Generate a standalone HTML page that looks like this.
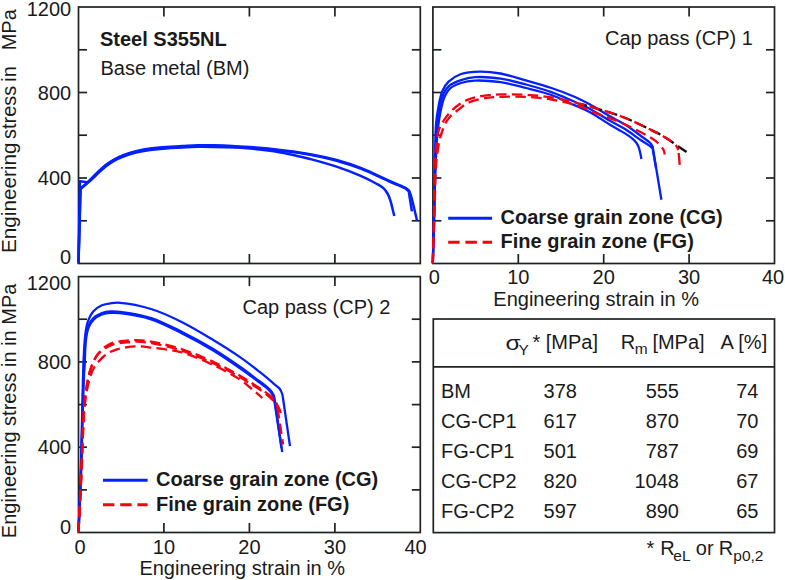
<!DOCTYPE html>
<html><head><meta charset="utf-8"><style>
html,body{margin:0;padding:0;background:#fff;}
body{width:785px;height:580px;overflow:hidden;font-family:"Liberation Sans", sans-serif;}
svg{display:block;}
</style></head><body>
<svg width="785" height="580" viewBox="0 0 785 580" font-family="Liberation Sans, sans-serif" fill="#1a1a1a">
<rect width="785" height="580" fill="#fff"/>
<rect x="78.5" y="7.0" width="341.8" height="256.5" fill="none" stroke="#1e2222" stroke-width="1.7"/>
<line x1="78.5" y1="220.8" x2="87.0" y2="220.8" stroke="#1e2222" stroke-width="1.7"/>
<line x1="411.8" y1="220.8" x2="420.3" y2="220.8" stroke="#1e2222" stroke-width="1.7"/>
<line x1="78.5" y1="178.0" x2="87.0" y2="178.0" stroke="#1e2222" stroke-width="1.7"/>
<line x1="411.8" y1="178.0" x2="420.3" y2="178.0" stroke="#1e2222" stroke-width="1.7"/>
<line x1="78.5" y1="135.2" x2="87.0" y2="135.2" stroke="#1e2222" stroke-width="1.7"/>
<line x1="411.8" y1="135.2" x2="420.3" y2="135.2" stroke="#1e2222" stroke-width="1.7"/>
<line x1="78.5" y1="92.5" x2="87.0" y2="92.5" stroke="#1e2222" stroke-width="1.7"/>
<line x1="411.8" y1="92.5" x2="420.3" y2="92.5" stroke="#1e2222" stroke-width="1.7"/>
<line x1="78.5" y1="49.8" x2="87.0" y2="49.8" stroke="#1e2222" stroke-width="1.7"/>
<line x1="411.8" y1="49.8" x2="420.3" y2="49.8" stroke="#1e2222" stroke-width="1.7"/>
<line x1="163.9" y1="263.5" x2="163.9" y2="254.0" stroke="#1e2222" stroke-width="1.7"/>
<line x1="163.9" y1="7.0" x2="163.9" y2="16.5" stroke="#1e2222" stroke-width="1.7"/>
<line x1="249.4" y1="263.5" x2="249.4" y2="254.0" stroke="#1e2222" stroke-width="1.7"/>
<line x1="249.4" y1="7.0" x2="249.4" y2="16.5" stroke="#1e2222" stroke-width="1.7"/>
<line x1="334.9" y1="263.5" x2="334.9" y2="254.0" stroke="#1e2222" stroke-width="1.7"/>
<line x1="334.9" y1="7.0" x2="334.9" y2="16.5" stroke="#1e2222" stroke-width="1.7"/>
<rect x="432.9" y="7.0" width="341.6" height="256.5" fill="none" stroke="#1e2222" stroke-width="1.7"/>
<line x1="432.9" y1="220.8" x2="441.4" y2="220.8" stroke="#1e2222" stroke-width="1.7"/>
<line x1="766.0" y1="220.8" x2="774.5" y2="220.8" stroke="#1e2222" stroke-width="1.7"/>
<line x1="432.9" y1="178.0" x2="441.4" y2="178.0" stroke="#1e2222" stroke-width="1.7"/>
<line x1="766.0" y1="178.0" x2="774.5" y2="178.0" stroke="#1e2222" stroke-width="1.7"/>
<line x1="432.9" y1="135.2" x2="441.4" y2="135.2" stroke="#1e2222" stroke-width="1.7"/>
<line x1="766.0" y1="135.2" x2="774.5" y2="135.2" stroke="#1e2222" stroke-width="1.7"/>
<line x1="432.9" y1="92.5" x2="441.4" y2="92.5" stroke="#1e2222" stroke-width="1.7"/>
<line x1="766.0" y1="92.5" x2="774.5" y2="92.5" stroke="#1e2222" stroke-width="1.7"/>
<line x1="432.9" y1="49.8" x2="441.4" y2="49.8" stroke="#1e2222" stroke-width="1.7"/>
<line x1="766.0" y1="49.8" x2="774.5" y2="49.8" stroke="#1e2222" stroke-width="1.7"/>
<line x1="518.3" y1="263.5" x2="518.3" y2="254.0" stroke="#1e2222" stroke-width="1.7"/>
<line x1="518.3" y1="7.0" x2="518.3" y2="16.5" stroke="#1e2222" stroke-width="1.7"/>
<line x1="603.7" y1="263.5" x2="603.7" y2="254.0" stroke="#1e2222" stroke-width="1.7"/>
<line x1="603.7" y1="7.0" x2="603.7" y2="16.5" stroke="#1e2222" stroke-width="1.7"/>
<line x1="689.1" y1="263.5" x2="689.1" y2="254.0" stroke="#1e2222" stroke-width="1.7"/>
<line x1="689.1" y1="7.0" x2="689.1" y2="16.5" stroke="#1e2222" stroke-width="1.7"/>
<rect x="78.5" y="276.6" width="341.8" height="255.9" fill="none" stroke="#1e2222" stroke-width="1.7"/>
<line x1="78.5" y1="489.9" x2="87.0" y2="489.9" stroke="#1e2222" stroke-width="1.7"/>
<line x1="411.8" y1="489.9" x2="420.3" y2="489.9" stroke="#1e2222" stroke-width="1.7"/>
<line x1="78.5" y1="447.2" x2="87.0" y2="447.2" stroke="#1e2222" stroke-width="1.7"/>
<line x1="411.8" y1="447.2" x2="420.3" y2="447.2" stroke="#1e2222" stroke-width="1.7"/>
<line x1="78.5" y1="404.6" x2="87.0" y2="404.6" stroke="#1e2222" stroke-width="1.7"/>
<line x1="411.8" y1="404.6" x2="420.3" y2="404.6" stroke="#1e2222" stroke-width="1.7"/>
<line x1="78.5" y1="361.9" x2="87.0" y2="361.9" stroke="#1e2222" stroke-width="1.7"/>
<line x1="411.8" y1="361.9" x2="420.3" y2="361.9" stroke="#1e2222" stroke-width="1.7"/>
<line x1="78.5" y1="319.2" x2="87.0" y2="319.2" stroke="#1e2222" stroke-width="1.7"/>
<line x1="411.8" y1="319.2" x2="420.3" y2="319.2" stroke="#1e2222" stroke-width="1.7"/>
<line x1="163.9" y1="532.5" x2="163.9" y2="523.0" stroke="#1e2222" stroke-width="1.7"/>
<line x1="163.9" y1="276.6" x2="163.9" y2="286.1" stroke="#1e2222" stroke-width="1.7"/>
<line x1="249.4" y1="532.5" x2="249.4" y2="523.0" stroke="#1e2222" stroke-width="1.7"/>
<line x1="249.4" y1="276.6" x2="249.4" y2="286.1" stroke="#1e2222" stroke-width="1.7"/>
<line x1="334.9" y1="532.5" x2="334.9" y2="523.0" stroke="#1e2222" stroke-width="1.7"/>
<line x1="334.9" y1="276.6" x2="334.9" y2="286.1" stroke="#1e2222" stroke-width="1.7"/>
<rect x="433.3" y="319.0" width="341.2" height="213.6" fill="none" stroke="#1e2222" stroke-width="1.7"/>
<line x1="433.3" y1="366.9" x2="774.5" y2="366.9" stroke="#1e2222" stroke-width="1.7"/>
<path d="M78.5,263.3 L80.0,181.3 L87.5,182.2 C88.8,181.1 90.2,180.1 91.5,178.9 C92.8,177.8 93.9,176.6 95.2,175.3 C96.7,173.8 98.3,172.2 100.0,170.6 C101.9,168.9 103.8,167.1 106.0,165.4 C108.4,163.6 111.1,161.7 114.0,160.1 C117.1,158.4 120.5,156.8 124.0,155.5 C127.8,154.0 131.8,152.8 136.0,151.8 C140.5,150.7 145.2,149.9 150.0,149.2 C155.1,148.5 160.7,148.0 166.0,147.6 C171.3,147.2 176.7,147.0 182.0,146.7 C187.3,146.4 192.7,146.0 198.0,145.9 C203.3,145.8 208.5,146.0 214.0,146.2 C219.8,146.4 226.0,146.6 232.0,147.0 C238.0,147.4 244.0,148.0 250.0,148.6 C256.0,149.2 261.8,149.8 268.0,150.6 C274.6,151.5 281.4,152.5 288.3,153.9 C295.4,155.3 302.4,157.0 310.0,159.0 C318.4,161.2 328.0,163.7 336.6,166.6 C344.9,169.4 353.6,172.8 360.7,175.9 C366.4,178.4 371.9,181.2 376.0,183.5 C379.0,185.1 381.4,186.3 383.4,188.1 C385.1,189.7 386.3,191.5 387.5,193.5 C388.8,195.7 389.5,198.0 390.5,201.0 C391.8,205.1 393.0,211.0 394.3,216.0" fill="none" stroke="#0520ff" stroke-width="2.5" stroke-linejoin="round"/>
<path d="M78.5,263.3 L80.6,189.0 L88.0,182.5 C89.2,181.6 90.3,180.7 91.5,179.7 C92.7,178.6 93.9,177.4 95.2,176.1 C96.7,174.6 98.3,173.0 100.0,171.4 C101.9,169.7 103.8,167.9 106.0,166.2 C108.4,164.4 111.1,162.5 114.0,160.9 C117.1,159.2 120.5,157.6 124.0,156.3 C127.8,154.8 131.8,153.6 136.0,152.6 C140.5,151.5 145.2,150.7 150.0,150.0 C155.1,149.3 160.7,148.8 166.0,148.4 C171.3,148.0 176.7,147.8 182.0,147.5 C187.3,147.2 192.7,146.9 198.0,146.8 C203.3,146.7 208.5,146.8 214.0,146.9 C219.8,147.0 226.0,147.2 232.0,147.3 C238.0,147.5 244.0,147.5 250.0,147.8 C256.0,148.1 261.8,148.6 268.0,149.2 C274.6,149.8 281.4,150.6 288.3,151.5 C295.4,152.4 302.4,153.4 310.0,154.8 C318.4,156.4 328.0,158.4 336.6,160.8 C344.9,163.1 352.3,165.5 360.7,168.7 C370.2,172.4 382.3,178.5 390.7,182.2 C396.7,184.9 403.3,187.1 406.2,189.1 C407.6,190.0 407.9,190.8 408.8,191.7 L411.9,211.4" fill="none" stroke="#0520ff" stroke-width="2.5" stroke-linejoin="round"/>
<path d="M78.5,263.3 L80.4,188.5 L88.0,182.3 C89.2,181.1 90.3,179.6 91.5,178.3 C92.7,177.0 93.9,176.0 95.2,174.7 C96.7,173.2 98.3,171.6 100.0,170.0 C101.9,168.3 103.8,166.5 106.0,164.8 C108.4,163.0 111.1,161.1 114.0,159.5 C117.1,157.8 120.5,156.2 124.0,154.9 C127.8,153.4 131.8,152.2 136.0,151.2 C140.5,150.1 145.2,149.3 150.0,148.6 C155.1,147.9 160.7,147.4 166.0,147.0 C171.3,146.6 176.7,146.4 182.0,146.1 C187.3,145.8 192.7,145.3 198.0,145.2 C203.3,145.1 208.5,145.2 214.0,145.3 C219.8,145.4 226.0,145.6 232.0,145.9 C238.0,146.2 244.0,146.6 250.0,147.0 C256.0,147.5 261.8,148.0 268.0,148.6 C274.6,149.3 281.4,150.1 288.3,151.0 C295.4,151.9 302.4,152.8 310.0,154.2 C318.4,155.7 328.0,157.7 336.6,160.0 C344.9,162.3 352.3,164.6 360.7,167.9 C370.2,171.6 382.3,177.8 390.7,181.5 C396.7,184.2 403.1,186.3 406.2,188.3 C407.7,189.3 408.3,190.1 409.3,191.0 C409.9,192.8 410.5,194.0 411.2,196.5 C412.7,201.7 415.1,212.6 417.1,220.7" fill="none" stroke="#0520ff" stroke-width="2.5" stroke-linejoin="round"/>
<path d="M432.8,263.3 C433.1,248.9 433.5,235.0 433.8,220.0 C434.1,203.9 434.5,184.9 434.8,170.0 C435.0,158.0 435.1,146.4 435.4,137.6 C435.6,131.5 435.7,127.2 436.2,122.0 C436.7,116.8 437.5,111.7 438.5,106.6 C439.5,101.4 440.5,95.4 442.4,91.0 C444.0,87.3 445.8,84.4 448.6,81.7 C451.8,78.6 456.2,75.7 461.0,74.0 C466.4,72.1 473.3,71.7 479.7,71.6 C486.4,71.5 493.3,72.2 500.5,73.5 C508.6,75.0 517.5,78.0 526.0,80.4 C534.5,82.8 543.1,85.2 551.4,88.0 C559.5,90.7 568.0,93.9 575.0,97.0 C580.8,99.5 585.1,101.8 590.5,104.7 C596.7,108.1 603.9,112.8 610.0,116.3 C615.3,119.3 620.0,121.4 625.0,124.5 C630.4,127.9 636.4,132.6 641.0,136.0 C644.4,138.5 648.0,140.7 650.0,142.8 C651.3,144.1 651.7,145.3 652.6,146.5 L661.4,199.7" fill="none" stroke="#0520ff" stroke-width="2.3" stroke-linejoin="round"/>
<path d="M432.8,263.3 C433.2,248.9 433.6,235.0 434.0,220.0 C434.4,203.9 434.7,185.2 435.2,170.0 C435.6,157.3 435.9,145.2 436.6,135.0 C437.2,127.1 437.7,120.7 438.7,114.0 C439.7,107.9 440.4,101.4 442.4,96.5 C444.0,92.5 445.7,89.1 448.6,86.4 C451.7,83.5 456.6,81.7 461.0,80.2 C465.4,78.6 469.6,77.6 475.0,77.2 C482.2,76.6 492.1,77.4 500.5,78.6 C509.1,79.8 517.5,82.2 526.0,84.5 C534.5,86.8 543.2,89.2 551.4,92.2 C559.5,95.1 568.0,98.9 575.0,102.0 C580.7,104.5 585.1,106.4 590.5,109.2 C596.7,112.5 603.9,117.3 610.0,120.8 C615.3,123.8 620.0,125.9 625.0,129.0 C630.3,132.3 636.4,137.2 641.0,140.3 C644.4,142.6 647.9,144.6 650.0,146.2 C651.2,147.1 651.7,147.7 652.6,148.5 L656.0,168.0" fill="none" stroke="#0520ff" stroke-width="2.3" stroke-linejoin="round"/>
<path d="M432.8,263.3 C433.2,248.9 433.7,235.0 434.1,220.0 C434.6,203.9 434.8,185.2 435.4,170.0 C435.9,157.3 436.4,145.0 437.3,135.0 C438.0,127.4 438.7,121.3 439.9,115.0 C441.0,109.2 442.0,103.2 443.9,98.5 C445.5,94.6 447.2,91.1 450.0,88.5 C452.9,85.9 457.0,84.3 461.0,83.0 C465.3,81.6 469.6,80.9 475.0,80.6 C482.2,80.2 492.0,81.0 500.5,82.2 C509.0,83.4 517.5,85.9 526.0,88.0 C534.5,90.1 543.2,92.1 551.4,95.0 C559.5,97.9 568.0,102.3 575.0,105.4 C580.7,107.9 585.1,109.5 590.5,112.4 C596.7,115.8 603.9,121.1 610.0,124.8 C615.3,128.0 620.8,130.7 625.0,133.4 C628.3,135.5 631.4,137.7 633.5,139.6 C634.9,140.8 635.6,141.9 636.6,143.0 C637.3,144.5 638.2,145.8 638.8,147.5 C639.6,149.6 640.2,152.9 640.7,155.0 C641.0,156.5 641.2,157.7 641.4,159.0" fill="none" stroke="#0520ff" stroke-width="2.3" stroke-linejoin="round"/>
<clipPath id="cb"><rect x="580" y="0" width="200" height="263"/></clipPath>
<g clip-path="url(#cb)">
<path d="M432.8,263.3 C433.2,245.5 433.6,227.0 434.0,210.0 C434.3,194.4 434.5,177.0 435.0,165.0 C435.3,157.0 435.6,150.7 436.2,145.0 C436.6,140.8 436.9,137.3 437.7,134.0 C438.4,131.1 439.4,128.4 440.5,126.0 C441.5,123.9 442.7,122.1 444.0,120.2 C445.4,118.1 446.9,115.9 448.5,114.0 C450.1,112.1 451.8,110.4 453.6,108.8 C455.4,107.2 457.4,105.7 459.5,104.3 C461.6,102.9 463.8,101.5 466.2,100.4 C468.9,99.2 471.8,98.1 475.0,97.3 C478.7,96.3 483.2,95.8 487.4,95.3 C491.7,94.8 495.4,94.5 500.5,94.4 C507.6,94.2 517.5,94.3 526.0,94.8 C534.5,95.3 543.1,96.1 551.4,97.4 C559.4,98.7 567.3,100.6 575.0,102.5 C582.4,104.3 589.3,106.3 596.8,108.6 C605.0,111.1 613.9,113.6 622.3,116.8 C630.9,120.1 640.2,124.6 647.8,128.3 C654.1,131.4 659.8,134.0 665.0,137.2 C669.7,140.1 673.8,143.4 678.0,146.3 C682.0,149.0 685.8,151.5 689.7,154.1" fill="none" stroke="#111" stroke-width="2.3" stroke-linejoin="round" stroke-dasharray="10.5 5.3" stroke-dashoffset="-2.5"/>
</g>
<path d="M432.8,263.3 C433.4,245.5 434.0,227.0 434.6,210.0 C435.1,194.4 435.2,176.0 436.0,165.0 C436.5,158.6 437.1,154.5 437.8,150.0 C438.3,146.3 438.8,143.0 439.5,140.0 C440.1,137.6 440.7,135.8 441.5,133.5 C442.4,130.7 443.3,127.3 444.7,124.5 C446.2,121.7 448.0,118.9 450.2,116.5 C452.4,114.1 455.1,112.2 457.9,110.0 C461.2,107.5 464.5,104.5 468.8,102.5 C474.0,100.1 481.7,98.7 487.4,97.8 C492.1,97.0 495.4,97.0 500.5,96.8 C507.6,96.5 517.5,96.5 526.0,96.9 C534.5,97.3 543.1,98.2 551.4,99.5 C559.5,100.8 567.4,102.5 575.0,104.8 C582.5,107.1 589.2,110.5 596.8,113.4 C605.0,116.6 613.9,119.5 622.3,123.2 C630.9,127.0 641.3,132.2 647.8,136.0 C652.1,138.5 655.3,140.4 658.0,143.0 C660.3,145.2 662.5,147.8 663.6,150.0 C664.4,151.6 664.4,153.0 664.8,154.5" fill="none" stroke="#f7000f" stroke-width="2.3" stroke-linejoin="round" stroke-dasharray="10.5 5.3" stroke-dashoffset="1"/>
<path d="M432.8,263.3 C433.2,245.5 433.6,227.0 434.0,210.0 C434.3,194.4 434.5,177.0 435.0,165.0 C435.3,157.0 435.6,150.7 436.2,145.0 C436.6,140.8 436.9,137.3 437.7,134.0 C438.4,131.1 439.4,128.4 440.5,126.0 C441.5,123.9 442.7,122.1 444.0,120.2 C445.4,118.1 446.9,115.9 448.5,114.0 C450.1,112.1 451.8,110.4 453.6,108.8 C455.4,107.2 457.4,105.7 459.5,104.3 C461.6,102.9 463.8,101.5 466.2,100.4 C468.9,99.2 471.8,98.1 475.0,97.3 C478.7,96.3 483.2,95.8 487.4,95.3 C491.7,94.8 495.4,94.5 500.5,94.4 C507.6,94.2 517.5,94.3 526.0,94.8 C534.5,95.3 543.1,96.1 551.4,97.4 C559.4,98.7 567.3,100.6 575.0,102.5 C582.4,104.3 589.3,106.3 596.8,108.6 C605.0,111.1 613.9,113.6 622.3,116.8 C630.9,120.1 640.2,124.6 647.8,128.3 C654.1,131.4 660.0,134.1 665.0,137.2 C669.2,139.8 673.8,142.9 676.0,145.5 C677.3,147.1 677.6,148.5 678.4,150.0" fill="none" stroke="#f7000f" stroke-width="2.3" stroke-linejoin="round" stroke-dasharray="10.5 5.3" stroke-dashoffset="0"/>
<path d="M678.4,150.0 L680.0,168.0" fill="none" stroke="#f7000f" stroke-width="2.3" stroke-linejoin="round" stroke-dasharray="12 6" stroke-dashoffset="-3"/>
<path d="M78.5,532.2 C79.2,514.8 79.9,498.0 80.5,480.0 C81.1,460.7 81.6,437.8 82.0,420.0 C82.3,405.7 82.6,392.8 82.9,381.2 C83.2,371.7 83.3,363.6 83.8,355.3 C84.2,347.6 84.6,339.2 85.5,332.9 C86.2,328.3 86.7,324.6 88.1,320.9 C89.4,317.5 90.9,314.0 93.2,311.4 C95.5,308.8 98.9,306.7 101.9,305.3 C104.7,304.1 107.5,303.7 110.5,303.3 C113.6,302.9 115.9,302.5 120.0,302.8 C127.4,303.3 140.9,305.8 151.1,309.0 C161.6,312.2 171.9,317.1 182.1,322.2 C192.6,327.4 203.3,334.0 213.2,340.0 C222.5,345.6 231.8,351.4 240.0,357.1 C247.3,362.1 253.9,367.4 260.0,372.2 C265.3,376.4 270.9,381.2 274.5,384.3 C276.7,386.2 278.4,387.1 279.7,388.8 C280.9,390.4 281.6,392.1 282.2,394.0 C282.9,396.1 283.0,398.7 283.4,401.0 L290.0,446.2" fill="none" stroke="#0520ff" stroke-width="2.3" stroke-linejoin="round"/>
<path d="M78.5,532.2 C79.2,514.8 80.1,498.0 80.7,480.0 C81.4,460.7 81.8,437.3 82.3,420.0 C82.7,406.8 82.9,395.7 83.3,385.0 C83.6,376.0 84.1,368.1 84.5,360.0 C84.9,352.5 84.8,344.3 85.6,338.1 C86.2,333.4 86.8,329.5 88.2,326.0 C89.4,323.0 91.0,320.4 93.2,318.3 C95.5,316.1 98.9,314.3 101.9,313.1 C104.7,312.0 107.5,311.6 110.5,311.4 C113.6,311.2 115.9,311.3 120.0,311.8 C127.4,312.7 140.9,314.7 151.1,318.0 C161.6,321.4 171.9,326.9 182.1,332.0 C192.6,337.2 203.3,343.0 213.2,349.0 C222.6,354.7 232.3,361.4 240.0,366.8 C246.1,371.1 251.3,375.1 256.0,378.6 C259.7,381.4 263.2,383.8 266.0,386.2 C268.2,388.1 270.2,389.8 271.6,391.6 C272.7,393.1 273.4,394.4 274.0,396.0 C274.6,397.8 274.7,400.0 275.0,402.0 L282.2,452.2" fill="none" stroke="#0520ff" stroke-width="2.3" stroke-linejoin="round"/>
<path d="M78.5,532.2 C79.3,514.8 80.2,498.0 80.9,480.0 C81.6,460.7 82.0,437.3 82.5,420.0 C82.9,406.8 83.1,395.7 83.5,385.0 C83.9,376.0 84.4,367.9 84.8,360.0 C85.2,352.8 85.2,345.4 86.0,339.5 C86.6,334.9 87.2,331.0 88.6,327.5 C89.8,324.5 91.4,321.8 93.6,319.6 C95.8,317.4 99.1,315.5 102.0,314.4 C104.7,313.3 107.6,313.0 110.5,312.8 C113.6,312.6 115.9,312.7 120.0,313.2 C127.4,314.1 140.9,316.1 151.1,319.4 C161.6,322.8 171.9,328.3 182.1,333.4 C192.6,338.6 203.3,344.4 213.2,350.4 C222.6,356.1 232.3,362.8 240.0,368.2 C246.1,372.4 251.3,376.3 256.0,379.8 C259.7,382.6 263.2,385.0 266.0,387.4 C268.2,389.3 270.1,391.0 271.4,392.8 C272.5,394.3 273.1,395.6 273.6,397.2 C274.2,399.0 274.3,401.1 274.7,403.0 L281.5,448.0" fill="none" stroke="#0520ff" stroke-width="2.3" stroke-linejoin="round"/>
<path d="M78.5,532.2 C79.4,514.8 80.5,496.2 81.2,480.0 C81.9,465.8 82.3,452.3 82.8,440.0 C83.3,429.6 83.6,418.6 84.2,411.0 C84.6,406.1 85.0,402.7 85.5,399.0 C85.9,395.8 86.4,393.0 87.0,390.0 C87.6,387.0 88.2,383.9 89.0,381.0 C89.8,378.1 90.7,375.1 91.7,372.5 C92.6,370.3 93.6,368.3 94.7,366.5 C95.7,364.9 96.7,363.8 98.0,362.3 C99.5,360.6 101.1,358.6 103.0,357.0 C105.0,355.3 107.2,353.6 109.5,352.3 C111.8,351.0 114.5,350.1 117.0,349.3 C119.5,348.5 121.7,348.1 124.5,347.6 C128.1,347.0 132.6,346.3 136.9,346.3 C141.5,346.3 145.5,346.9 151.1,347.6 C159.5,348.6 171.9,349.7 182.1,352.5 C192.6,355.4 203.3,360.4 213.2,365.0 C222.6,369.4 233.4,375.2 240.0,379.6 C244.3,382.4 246.5,384.6 250.0,387.5 C253.9,390.7 258.3,394.5 262.4,398.0" fill="none" stroke="#f7000f" stroke-width="2.3" stroke-linejoin="round" stroke-dasharray="10.5 5.3" stroke-dashoffset="1"/>
<path d="M78.5,532.2 C79.3,514.8 80.3,496.2 81.0,480.0 C81.6,465.8 82.0,452.3 82.5,440.0 C82.9,429.4 83.4,418.3 83.9,410.6 C84.2,405.6 84.5,402.2 85.0,398.2 C85.4,394.5 85.9,391.1 86.5,387.4 C87.2,383.4 88.0,378.6 88.9,375.0 C89.6,372.2 90.3,369.9 91.2,367.5 C92.0,365.1 92.9,362.7 94.0,360.5 C95.1,358.2 96.4,355.7 98.0,354.0 C99.4,352.5 101.1,351.6 102.8,350.4 C104.6,349.1 106.4,347.6 108.3,346.6 C110.1,345.6 111.8,344.8 114.0,344.2 C117.0,343.3 121.1,342.9 124.8,342.5 C128.8,342.1 132.9,341.6 137.2,341.7 C141.8,341.8 145.8,342.2 151.4,343.2 C159.8,344.7 172.2,347.6 182.4,350.9 C192.9,354.3 203.6,358.9 213.5,363.4 C222.9,367.7 233.4,373.4 240.3,377.3 C244.7,379.9 247.2,381.7 251.0,384.1 C255.2,386.8 260.2,389.5 264.4,392.8 C268.8,396.2 274.2,401.1 276.8,404.5 C278.4,406.5 279.1,408.4 279.8,410.0 C280.3,411.1 280.4,412.0 280.7,413.0" fill="none" stroke="#f7000f" stroke-width="2.3" stroke-linejoin="round" stroke-dasharray="10.5 5.3" stroke-dashoffset="0"/>
<path d="M78.5,532.2 C79.3,514.8 80.3,496.2 81.0,480.0 C81.6,465.8 82.0,452.3 82.5,440.0 C82.9,429.4 83.4,418.3 83.9,410.6 C84.2,405.6 84.5,402.2 85.0,398.2 C85.4,394.5 85.9,391.1 86.5,387.4 C87.2,383.4 88.0,378.6 88.9,375.0 C89.6,372.2 90.3,369.9 91.2,367.5 C92.0,365.1 92.9,362.7 94.0,360.5 C95.1,358.2 96.5,356.0 98.0,354.0 C99.4,352.1 100.8,350.3 102.5,348.8 C104.2,347.3 106.1,346.0 108.0,345.0 C109.8,344.0 111.5,343.2 113.7,342.6 C116.7,341.7 120.8,341.3 124.5,340.9 C128.5,340.5 132.6,340.0 136.9,340.1 C141.5,340.2 145.5,340.6 151.1,341.6 C159.5,343.1 171.9,346.0 182.1,349.3 C192.6,352.7 203.3,357.3 213.2,361.8 C222.6,366.1 233.1,371.8 240.0,375.7 C244.4,378.3 246.9,380.1 250.7,382.5 C254.9,385.2 260.1,388.4 264.1,391.2 C267.5,393.6 271.3,396.2 273.4,398.4 C274.8,399.8 275.6,400.8 276.3,402.5 C277.2,404.6 277.3,407.5 277.8,410.0" fill="none" stroke="#f7000f" stroke-width="2.3" stroke-linejoin="round" stroke-dasharray="10.5 5.3" stroke-dashoffset="0"/>
<path d="M277.8,410.0 L283.1,444.5" fill="none" stroke="#f7000f" stroke-width="2.3" stroke-linejoin="round" stroke-dasharray="10.5 5.3" stroke-dashoffset="2"/>
<text x="71.2" y="15.5" font-size="20.0" text-anchor="end" font-weight="normal">1200</text>
<text x="71.2" y="99.6" font-size="20.0" text-anchor="end" font-weight="normal">800</text>
<text x="71.2" y="184.8" font-size="20.0" text-anchor="end" font-weight="normal">400</text>
<text x="71.2" y="264.3" font-size="20.0" text-anchor="end" font-weight="normal">0</text>
<text x="71.2" y="290.2" font-size="20.0" text-anchor="end" font-weight="normal">1200</text>
<text x="71.2" y="369.2" font-size="20.0" text-anchor="end" font-weight="normal">800</text>
<text x="71.2" y="454.2" font-size="20.0" text-anchor="end" font-weight="normal">400</text>
<text x="71.2" y="533.6" font-size="20.0" text-anchor="end" font-weight="normal">0</text>
<text x="434.4" y="284.2" font-size="20.0" text-anchor="middle" font-weight="normal">0</text>
<text x="80.0" y="554.0" font-size="20.0" text-anchor="middle" font-weight="normal">0</text>
<text x="518.3" y="284.2" font-size="20.0" text-anchor="middle" font-weight="normal">10</text>
<text x="163.9" y="554.0" font-size="20.0" text-anchor="middle" font-weight="normal">10</text>
<text x="603.7" y="284.2" font-size="20.0" text-anchor="middle" font-weight="normal">20</text>
<text x="249.4" y="554.0" font-size="20.0" text-anchor="middle" font-weight="normal">20</text>
<text x="689.1" y="284.2" font-size="20.0" text-anchor="middle" font-weight="normal">30</text>
<text x="334.9" y="554.0" font-size="20.0" text-anchor="middle" font-weight="normal">30</text>
<text x="773.1" y="284.2" font-size="20.0" text-anchor="middle" font-weight="normal">40</text>
<text x="415.5" y="554.0" font-size="20.0" text-anchor="middle" font-weight="normal">40</text>
<text x="493.3" y="305.6" font-size="20.0" text-anchor="start" font-weight="normal">Engineering strain in %</text>
<text x="139.4" y="574.6" font-size="20.0" text-anchor="start" font-weight="normal">Engineering strain in %</text>
<text transform="translate(16,253.0) rotate(-90)" font-size="20.7">Engineering</text>
<text transform="translate(16,139.0) rotate(-90)" font-size="20">stress</text>
<text transform="translate(16,81.8) rotate(-90)" font-size="20">in</text>
<text transform="translate(16,50.3) rotate(-90)" font-size="20">MPa</text>
<text transform="translate(16,410.9) rotate(-90)" font-size="20" text-anchor="middle">Engineering stress in in MPa</text>
<text x="100.0" y="45.6" font-size="20.0" text-anchor="start" font-weight="bold">Steel S355NL</text>
<text x="100.5" y="74.8" font-size="20.0" text-anchor="start" font-weight="normal">Base metal (BM)</text>
<text x="605.0" y="44.8" font-size="20.0" text-anchor="start" font-weight="normal">Cap pass (CP) 1</text>
<text x="242.5" y="314.2" font-size="20.0" text-anchor="start" font-weight="normal">Cap pass (CP) 2</text>
<line x1="448.2" y1="218.3" x2="492.1" y2="218.3" stroke="#0520ff" stroke-width="3"/>
<line x1="448.2" y1="242.3" x2="492.1" y2="242.3" stroke="#f7000f" stroke-width="3" stroke-dasharray="11.4 5.8"/>
<text x="500.5" y="223.7" font-size="20.0" text-anchor="start" font-weight="bold">Coarse grain zone (CG)</text>
<text x="500.5" y="248.3" font-size="20.0" text-anchor="start" font-weight="bold">Fine grain zone (FG)</text>
<line x1="103.0" y1="480.3" x2="147.6" y2="480.3" stroke="#0520ff" stroke-width="3"/>
<line x1="103.0" y1="504.7" x2="147.6" y2="504.7" stroke="#f7000f" stroke-width="3" stroke-dasharray="11.4 5.8"/>
<text x="156.0" y="486.1" font-size="20.0" text-anchor="start" font-weight="bold">Coarse grain zone (CG)</text>
<text x="156.0" y="510.8" font-size="20.0" text-anchor="start" font-weight="bold">Fine grain zone (FG)</text>
<text transform="translate(505.6,349.6) scale(1.22,1)" font-size="20">&#963;</text>
<text x="518.5" y="354.7" font-size="15.5">Y</text>
<text x="532.5" y="349.4" font-size="20.0" text-anchor="start" font-weight="normal">*</text>
<text x="545.8" y="349.4" font-size="20.0" text-anchor="start" font-weight="normal">[MPa]</text>
<text x="620.8" y="348.6" font-size="20.0" text-anchor="start" font-weight="normal">R</text>
<text x="634.8" y="354.3" font-size="15.5">m</text>
<text x="652.4" y="348.6" font-size="20.0" text-anchor="start" font-weight="normal">[MPa]</text>
<text x="720.5" y="348.6" font-size="20.0" text-anchor="start" font-weight="normal">A</text>
<text x="738.3" y="348.6" font-size="20.0" text-anchor="start" font-weight="normal">[%]</text>
<text x="441.0" y="397.6" font-size="20.0" text-anchor="start" font-weight="normal">BM</text>
<text x="543.6" y="397.6" font-size="20.0" text-anchor="start" font-weight="normal">378</text>
<text x="679.0" y="397.6" font-size="20.0" text-anchor="end" font-weight="normal">555</text>
<text x="758.5" y="397.6" font-size="20.0" text-anchor="end" font-weight="normal">74</text>
<text x="441.0" y="427.6" font-size="20.0" text-anchor="start" font-weight="normal">CG-CP1</text>
<text x="543.6" y="427.6" font-size="20.0" text-anchor="start" font-weight="normal">617</text>
<text x="679.0" y="427.6" font-size="20.0" text-anchor="end" font-weight="normal">870</text>
<text x="758.5" y="427.6" font-size="20.0" text-anchor="end" font-weight="normal">70</text>
<text x="441.0" y="457.6" font-size="20.0" text-anchor="start" font-weight="normal">FG-CP1</text>
<text x="543.6" y="457.6" font-size="20.0" text-anchor="start" font-weight="normal">501</text>
<text x="679.0" y="457.6" font-size="20.0" text-anchor="end" font-weight="normal">787</text>
<text x="758.5" y="457.6" font-size="20.0" text-anchor="end" font-weight="normal">69</text>
<text x="441.0" y="487.6" font-size="20.0" text-anchor="start" font-weight="normal">CG-CP2</text>
<text x="543.6" y="487.6" font-size="20.0" text-anchor="start" font-weight="normal">820</text>
<text x="679.0" y="487.6" font-size="20.0" text-anchor="end" font-weight="normal">1048</text>
<text x="758.5" y="487.6" font-size="20.0" text-anchor="end" font-weight="normal">67</text>
<text x="441.0" y="517.6" font-size="20.0" text-anchor="start" font-weight="normal">FG-CP2</text>
<text x="543.6" y="517.6" font-size="20.0" text-anchor="start" font-weight="normal">597</text>
<text x="679.0" y="517.6" font-size="20.0" text-anchor="end" font-weight="normal">890</text>
<text x="758.5" y="517.6" font-size="20.0" text-anchor="end" font-weight="normal">65</text>
<text x="646.5" y="554.6" font-size="20.0" text-anchor="start" font-weight="normal">*</text>
<text x="660.3" y="554.6" font-size="20.0" text-anchor="start" font-weight="normal">R</text>
<text x="673.3" y="560.5" font-size="15.5">eL</text>
<text x="695.8" y="554.6" font-size="20.0" text-anchor="start" font-weight="normal">or</text>
<text x="718.8" y="554.6" font-size="20.0" text-anchor="start" font-weight="normal">R</text>
<text x="733.3" y="560.5" font-size="15.5">p0,2</text>
</svg>
</body></html>
